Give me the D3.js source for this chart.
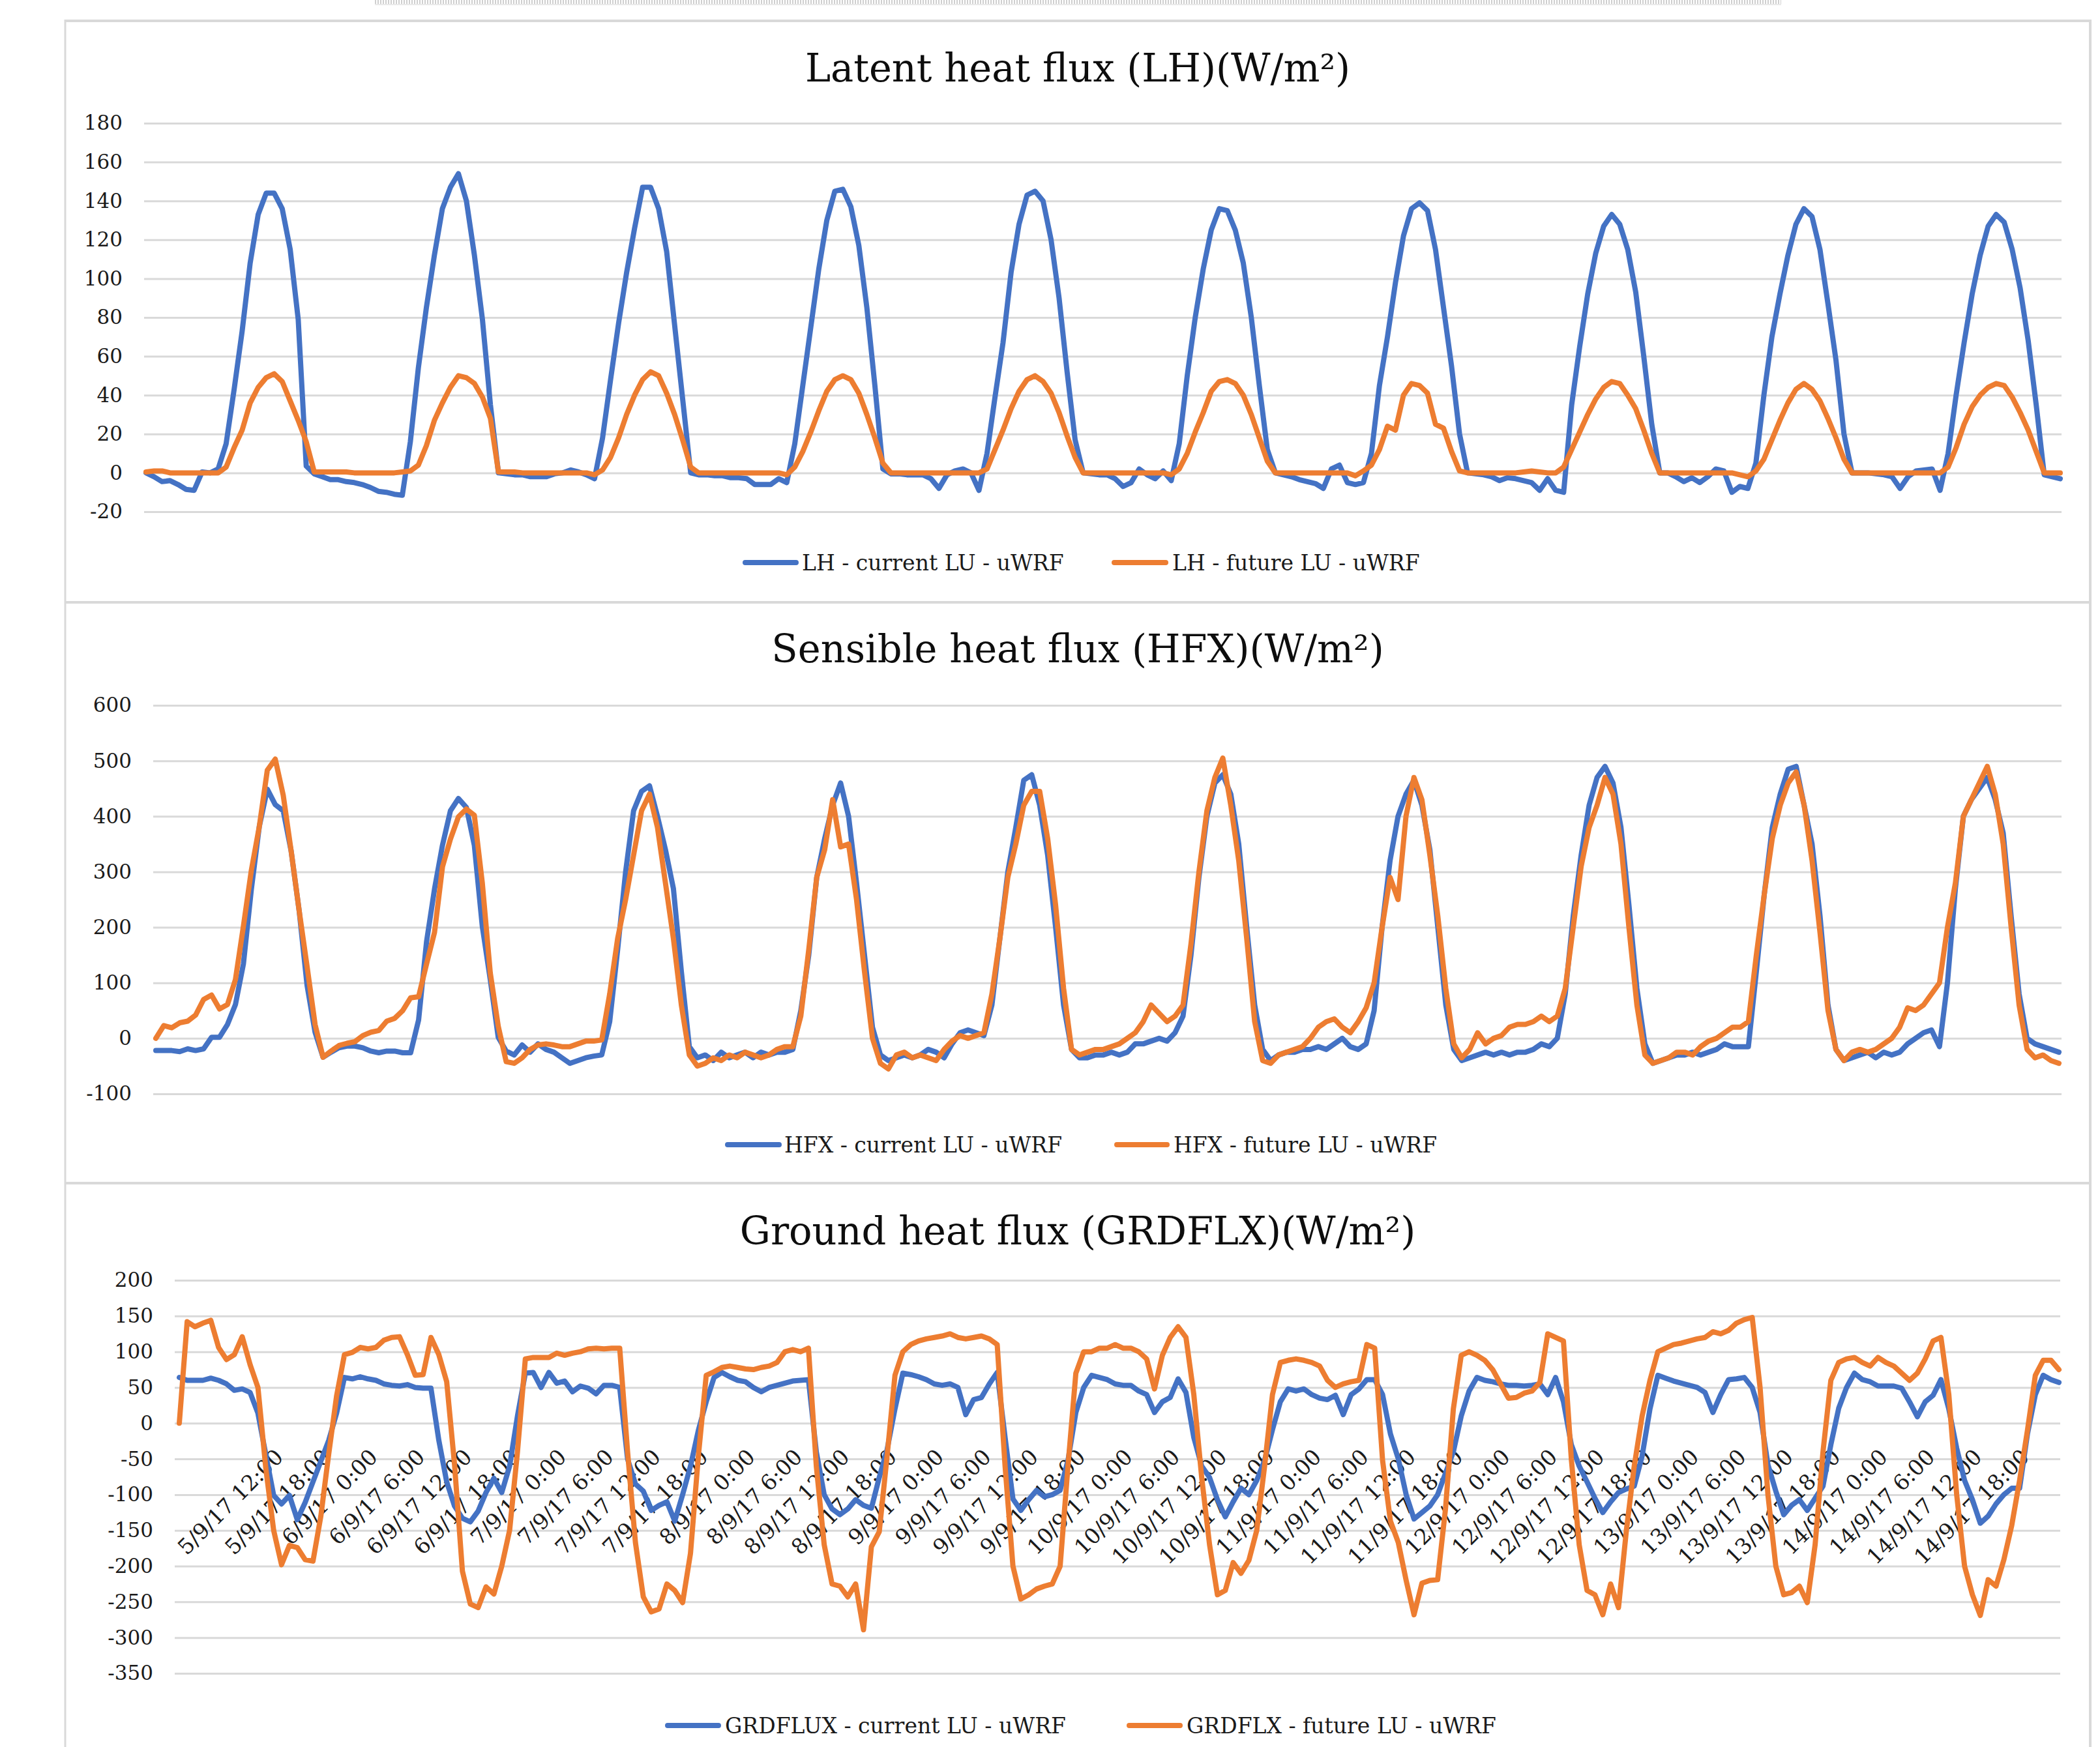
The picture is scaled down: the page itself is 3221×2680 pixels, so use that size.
<!DOCTYPE html>
<html>
<head>
<meta charset="utf-8">
<script src="https://cdn.jsdelivr.net/npm/d3@7"></script>
<style>
  body { margin: 0; background: #fff; }
  svg { display: block; }
</style>
</head>
<body>
<div id="chart"></div>
<script>
// hourly values, 5/9/17 0:00 .. 14/9/17 23:00 (one line per day)
var lhCurrent = [
  0, -2, -4.5, -4, -6, -8.5, -9, 0.5, 0, 2, 15, 43, 73, 108, 133, 144, 144, 136, 115, 79, 3.5, -0.5, -2, -3.5,
  -3.5, -4.5, -5, -6, -7.5, -9.5, -10, -11, -11.5, 16, 54, 85, 112, 136, 147, 154, 140, 112, 79, 35, 0, -0.5, -1, -1,
  -2, -2, -2, -0.5, 0, 1.5, 0.5, -1, -3, 18, 48, 77, 103, 126, 147, 147, 136, 114, 76, 38, 0, -1, -1, -1.5,
  -1.5, -2.5, -2.5, -3, -6, -6, -6, -3, -5, 15, 45, 75, 105, 130, 145, 146, 137, 117, 85, 45, 2, -0.5, -0.5, -1,
  -1, -1, -3, -8, -1, 1, 2, 0, -9, 10, 39, 67, 103, 128, 143, 145, 140, 120, 90, 52, 17, 0, -0.5, -1,
  -1, -3, -7, -5, 2, -1, -3, 1, -4, 15, 50, 80, 105, 125, 136, 135, 125, 108, 80, 45, 12, 0, -1, -2,
  -3.5, -4.5, -5.5, -8, 2, 4, -5, -6, -5, 10, 45, 70, 98, 122, 136, 139, 135, 115, 85, 55, 20, 0, -0.5, -1,
  -2, -4, -2.5, -3, -4, -5, -9, -3, -9, -10, 35, 65, 92, 113, 127, 133, 128, 115, 93, 60, 25, 0, 0, -2,
  -4.5, -2.5, -5, -2, 2, 1, -10, -7, -8, 5, 40, 70, 92, 112, 128, 136, 132, 115, 87, 58, 20, 0, 0, 0,
  -0.5, -1, -2, -8, -2, 1, 1.5, 2, -9, 10, 40, 67, 92, 112, 127, 133, 129, 115, 95, 68, 35, -1, -2, -3
];
var lhFuture = [
  0.5, 1, 1, 0, 0, 0, 0, 0, 0, 0, 3, 13, 22, 36, 44, 49, 51, 47, 37, 27, 16, 0.5, 0.5, 0.5,
  0.5, 0.5, 0, 0, 0, 0, 0, 0, 0.5, 1, 4, 14, 27, 36, 44, 50, 49, 46, 39, 28, 0.5, 0.5, 0.5, 0,
  0, 0, 0, 0, 0, 0, 0, 0, -1, 1.5, 8, 18, 30, 40, 48, 52, 50, 41, 30, 17, 3, 0, 0, 0,
  0, 0, 0, 0, 0, 0, 0, 0, -1, 3, 11, 21, 32, 42, 48, 50, 48, 41, 30, 18, 5, 0, 0, 0,
  0, 0, 0, 0, 0, 0, 0, 0, 0, 2, 12, 22, 33, 42, 48, 50, 47, 41, 31, 19, 8, 0, 0, 0,
  0, 0, 0, 0, 0, 0, 0, 0, -1, 2, 10, 21, 31, 42, 47, 48, 46, 40, 30, 18, 6, 0, 0, 0,
  0, 0, 0, 0, 0, 0, 0, -1.5, 1, 4, 12, 24, 22, 40, 46, 45, 41, 25, 23, 11, 1, 0, 0, 0,
  0, 0, 0, 0, 0.5, 1, 0.5, 0, 0, 3, 12, 21, 30, 38, 44, 47, 46, 40, 33, 22, 10, 0, 0, 0,
  0, 0, 0, 0, 0, 0, 0, -1, -2, 1, 7, 17, 27, 36, 43, 46, 43, 37, 28, 18, 7, 0, 0, 0,
  0, 0, 0, 0, 0, 0, 0, 0, 0, 3, 13, 25, 34, 40, 44, 46, 45, 39, 31, 22, 11, 0, 0, 0
];
var hfxCurrent = [
  -22, -22, -22, -24, -19, -22, -19, 2, 2, 25, 61, 134, 269, 382, 449, 421, 410, 337, 230, 95, 11, -34, -25, -17,
  -14, -14, -17, -23, -26, -23, -23, -26, -26, 33, 174, 269, 348, 410, 432, 416, 348, 202, 106, 2, -23, -30, -12, -25,
  -10, -20, -25, -35, -45, -40, -35, -32, -30, 30, 160, 300, 410, 445, 455, 400, 340, 270, 120, -15, -35, -30, -40, -25,
  -35, -30, -25, -35, -25, -30, -25, -25, -20, 50, 150, 290, 360, 420, 460, 400, 280, 150, 20, -30, -40, -35, -30, -35,
  -30, -20, -25, -35, -10, 10, 15, 10, 5, 60, 180, 300, 380, 465, 475, 420, 330, 200, 60, -20, -35, -35, -30, -30,
  -25, -30, -25, -10, -10, -5, 0, -5, 10, 40, 150, 290, 400, 460, 475, 440, 350, 200, 60, -20, -40, -30, -25, -25,
  -20, -20, -15, -20, -10, 0, -15, -20, -10, 50, 200, 320, 400, 440, 465, 420, 340, 200, 60, -20, -40, -35, -30, -25,
  -30, -25, -30, -25, -25, -20, -10, -15, 0, 80, 220, 330, 420, 470, 490, 460, 380, 240, 90, -10, -45, -40, -35, -30,
  -30, -25, -30, -25, -20, -10, -15, -15, -15, 120, 260, 380, 440, 485, 490, 420, 350, 220, 60, -20, -40, -35, -30, -25,
  -35, -25, -30, -25, -10, 0, 10, 15, -15, 100, 270, 400, 430, 450, 470, 430, 370, 220, 80, 0, -10, -15, -20, -25
];
var hfxFuture = [
  0, 23, 19, 28, 31, 42, 70, 78, 53, 61, 106, 202, 303, 382, 483, 503, 438, 337, 230, 129, 25, -34, -23, -13,
  -9, -6, 5, 11, 14, 31, 36, 50, 73, 75, 134, 191, 309, 359, 399, 413, 402, 280, 118, 22, -42, -45, -35, -20,
  -12, -10, -12, -15, -15, -10, -5, -5, -3, 80, 180, 250, 330, 410, 440, 380, 280, 180, 60, -30, -50, -45, -35, -40,
  -30, -35, -25, -30, -35, -30, -20, -15, -15, 40, 160, 290, 340, 430, 345, 350, 250, 120, 0, -45, -55, -30, -25, -35,
  -30, -35, -40, -20, -5, 5, 0, 5, 10, 80, 180, 290, 350, 420, 445, 445, 360, 240, 90, -20, -30, -25, -20, -20,
  -15, -10, 0, 10, 30, 60, 45, 30, 40, 60, 170, 300, 410, 470, 505, 420, 320, 180, 30, -40, -45, -30, -25, -20,
  -15, 0, 20, 30, 35, 20, 10, 30, 55, 100, 200, 290, 250, 400, 470, 430, 330, 220, 90, -10, -35, -20, 10, -10,
  0, 5, 20, 25, 25, 30, 40, 30, 40, 90, 200, 310, 380, 420, 470, 440, 350, 200, 60, -30, -45, -40, -35, -25,
  -25, -30, -15, -5, 0, 10, 20, 20, 30, 150, 260, 360, 420, 460, 480, 420, 320, 190, 50, -20, -40, -25, -20, -25,
  -20, -10, 0, 20, 55, 50, 60, 80, 100, 200, 280, 400, 430, 460, 490, 440, 350, 200, 60, -20, -35, -30, -40, -45
];
var grdCurrent = [
  64, 60, 60, 60, 63, 60, 55, 46, 48, 43, 14, -44, -101, -113, -101, -135, -111, -82, -53, -24, 14, 64, 62, 65,
  62, 60, 55, 53, 52, 54, 50, 49, 49, -24, -82, -116, -133, -138, -123, -97, -77, -97, -60, 10, 70, 71, 50, 71,
  56, 59, 44, 52, 49, 41, 53, 53, 50, -50, -85, -95, -122, -115, -110, -137, -100, -60, -10, 30, 64, 71, 65, 60,
  58, 50, 44, 50, 53, 56, 59, 60, 61, -40, -100, -120, -128, -120, -107, -115, -119, -76, -37, 20, 70, 68, 65, 61,
  55, 53, 55, 50, 12, 33, 36, 55, 71, -20, -106, -122, -107, -94, -103, -100, -94, -52, 15, 50, 67, 64, 61, 55,
  53, 53, 45, 40, 15, 30, 36, 62, 43, -20, -60, -76, -107, -131, -110, -91, -100, -80, -52, -9, 30, 48, 45, 48,
  40, 35, 33, 39, 12, 40, 48, 61, 61, 40, -15, -50, -100, -134, -125, -116, -100, -70, -40, 10, 45, 64, 60, 58,
  55, 53, 53, 52, 53, 55, 40, 64, 30, -30, -60, -82, -105, -125, -110, -97, -92, -88, -46, 20, 67, 63, 59, 56,
  53, 50, 43, 15, 40, 61, 62, 64, 50, 15, -58, -95, -128, -115, -107, -122, -105, -88, -30, 21, 50, 70, 61, 58,
  52, 52, 52, 49, 30, 9, 30, 39, 61, 20, -35, -80, -107, -140, -130, -113, -100, -91, -91, -15, 40, 67, 61, 57
];
var grdFuture = [
  0, 142, 135, 140, 144, 106, 89, 96, 121, 82, 50, -63, -150, -198, -171, -174, -191, -193, -130, -43, 38, 96, 99, 106,
  104, 106, 116, 120, 121, 96, 67, 68, 120, 96, 58, -58, -207, -253, -258, -229, -239, -200, -150, -40, 90, 92, 92, 92,
  98, 95, 98, 100, 104, 105, 104, 105, 105, -40, -167, -243, -264, -260, -225, -234, -251, -182, -46, 67, 72, 78, 80, 78,
  76, 75, 78, 80, 85, 100, 103, 100, 105, -60, -170, -225, -228, -243, -225, -289, -173, -152, -46, 67, 100, 110, 115, 118,
  120, 122, 125, 120, 118, 120, 122, 118, 110, -60, -200, -246, -240, -232, -228, -225, -200, -60, 70, 100, 100, 105, 105, 110,
  105, 105, 100, 90, 48, 95, 120, 135, 120, 40, -76, -170, -240, -234, -195, -210, -192, -150, -60, 40, 85, 88, 90, 88,
  85, 80, 60, 50, 55, 58, 60, 110, 105, -52, -137, -167, -220, -268, -224, -220, -219, -120, 20, 95, 100, 95, 88, 75,
  55, 35, 36, 42, 45, 57, 125, 120, 115, -50, -170, -234, -240, -268, -225, -258, -150, -60, 10, 60, 100, 105, 110, 112,
  115, 118, 120, 128, 125, 130, 140, 145, 148, 50, -100, -200, -240, -237, -228, -251, -170, -40, 60, 85, 90, 92, 85, 80,
  92, 85, 80, 70, 60, 70, 90, 115, 120, 40, -100, -200, -240, -269, -219, -228, -191, -143, -80, -10, 67, 88, 88, 75
];

var lhTicks = [-20, 0, 20, 40, 60, 80, 100, 120, 140, 160, 180];
var hfxTicks = [-100, 0, 100, 200, 300, 400, 500, 600];
var grdTicks = [-350, -300, -250, -200, -150, -100, -50, 0, 50, 100, 150, 200];

// categories: hourly time stamps
var categories = d3.range(240).map(function(i) {
  return (5 + Math.floor(i / 24)) + "/9/17 " + (i % 24) + ":00";
});
var xTickLabels = d3.range(12, 240, 6).map(function(i) { return categories[i]; });

var blue = "#4472C4", orange = "#ED7D31";
var font = "'DejaVu Serif', Georgia, serif";

var svgWidth = 3221, svgHeight = 2680;
var svg = d3.select("#chart").append("svg")
  .attr("width", svgWidth)
  .attr("height", svgHeight);

// dotted strip at the top (selection border)
svg.append("line")
  .attr("x1", 575).attr("x2", 2732).attr("y1", 3).attr("y2", 3)
  .attr("stroke", "#cfcfcf").attr("stroke-width", 6).attr("stroke-dasharray", "2,2");
svg.append("line")
  .attr("x1", 575).attr("x2", 2732).attr("y1", 7).attr("y2", 7)
  .attr("stroke", "#e3e3e3").attr("stroke-width", 1.5);

// panel frames
var frameColor = "#d9d9d9";
[32, 924, 1815].forEach(function(yy) {
  svg.append("line").attr("x1", 100).attr("x2", 3206).attr("y1", yy).attr("y2", yy)
    .attr("stroke", frameColor).attr("stroke-width", 4);
});
svg.append("line").attr("x1", 100).attr("x2", 100).attr("y1", 30).attr("y2", svgHeight)
  .attr("stroke", frameColor).attr("stroke-width", 3);
svg.append("line").attr("x1", 3206).attr("x2", 3206).attr("y1", 30).attr("y2", svgHeight)
  .attr("stroke", frameColor).attr("stroke-width", 4);

var panels = [
  {
    title: "Latent heat flux (LH)(W/m²)", titleY: 125,
    current: lhCurrent, future: lhFuture, ticks: lhTicks, domain: [-20, 180],
    yTop: 189, yBottom: 785, gridLeft: 221, gridRight: 3162, dataLeft: 224, dataRight: 3160, labelRight: 188,
    legendY: 863,
    legend: [
      { name: "LH - current LU - uWRF", color: blue, x1: 1139, x2: 1225, tx: 1230 },
      { name: "LH - future LU - uWRF", color: orange, x1: 1705, x2: 1792, tx: 1798 }
    ]
  },
  {
    title: "Sensible heat flux (HFX)(W/m²)", titleY: 1016,
    current: hfxCurrent, future: hfxFuture, ticks: hfxTicks, domain: [-100, 600],
    yTop: 1082, yBottom: 1678, gridLeft: 235, gridRight: 3162, dataLeft: 239, dataRight: 3158, labelRight: 202,
    legendY: 1756,
    legend: [
      { name: "HFX - current LU - uWRF", color: blue, x1: 1112, x2: 1199, tx: 1203 },
      { name: "HFX - future LU - uWRF", color: orange, x1: 1709, x2: 1794, tx: 1800 }
    ]
  },
  {
    title: "Ground heat flux (GRDFLX)(W/m²)", titleY: 1909,
    current: grdCurrent, future: grdFuture, ticks: grdTicks, domain: [-350, 200],
    yTop: 1964, yBottom: 2567, gridLeft: 268, gridRight: 3160, dataLeft: 275, dataRight: 3158, labelRight: 235,
    legendY: 2647, xLabels: true,
    legend: [
      { name: "GRDFLUX - current LU - uWRF", color: blue, x1: 1020, x2: 1106, tx: 1112 },
      { name: "GRDFLX - future LU - uWRF", color: orange, x1: 1728, x2: 1814, tx: 1820 }
    ]
  }
];

panels.forEach(function(p) {
  var g = svg.append("g");

  var x = d3.scalePoint().domain(categories).range([p.dataLeft, p.dataRight]);
  var y = d3.scaleLinear().domain(p.domain).range([p.yBottom, p.yTop]);

  // gridlines and value labels
  var yAxis = d3.axisLeft(y)
    .tickValues(p.ticks)
    .tickSize(-(p.gridRight - p.gridLeft))
    .tickPadding(p.gridLeft - p.labelRight)
    .tickFormat(d3.format("d"));
  var ya = g.append("g")
    .attr("transform", `translate(${p.gridLeft},0)`)
    .call(yAxis);
  ya.select(".domain").remove();
  ya.selectAll(".tick line").attr("stroke", "#d9d9d9").attr("stroke-width", 3);
  ya.selectAll(".tick text")
    .attr("font-family", font).attr("font-size", 31).attr("fill", "#1a1a1a")
    .text(function(d) { return d < 0 ? "-" + Math.abs(d) : d; });

  // category labels (bottom panel only)
  if (p.xLabels) {
    var xa = g.append("g")
      .attr("transform", `translate(0,${y(0)})`)
      .call(d3.axisBottom(x).tickValues(xTickLabels).tickSize(0));
    xa.select(".domain").remove();
    xa.selectAll(".tick text")
      .attr("font-family", font).attr("font-size", 33).attr("fill", "#1a1a1a")
      .attr("text-anchor", "end")
      .attr("dominant-baseline", "central")
      .attr("dy", null).attr("y", null)
      .attr("transform", `translate(8,${2229 - y(0)}) rotate(-45)`);
  }

  var line = d3.line()
    .x(function(d, i) { return x(categories[i]); })
    .y(function(d) { return y(d); });

  [[p.current, blue], [p.future, orange]].forEach(function(s) {
    g.append("path")
      .datum(s[0])
      .attr("d", line)
      .attr("fill", "none")
      .attr("stroke", s[1])
      .attr("stroke-width", 8)
      .attr("stroke-linejoin", "round")
      .attr("stroke-linecap", "round");
  });

  // title
  g.append("text")
    .attr("x", 1653).attr("y", p.titleY)
    .attr("text-anchor", "middle")
    .attr("font-family", font).attr("font-size", 59).attr("fill", "#0d0d0d")
    .text(p.title);

  // legend
  p.legend.forEach(function(e) {
    g.append("line")
      .attr("x1", e.x1 + 4).attr("x2", e.x2 - 4)
      .attr("y1", p.legendY).attr("y2", p.legendY)
      .attr("stroke", e.color).attr("stroke-width", 8).attr("stroke-linecap", "round");
    g.append("text")
      .attr("x", e.tx).attr("y", p.legendY)
      .attr("dy", "0.36em")
      .attr("font-family", font).attr("font-size", 33).attr("fill", "#1a1a1a")
      .text(e.name);
  });
});
</script>
</body>
</html>
